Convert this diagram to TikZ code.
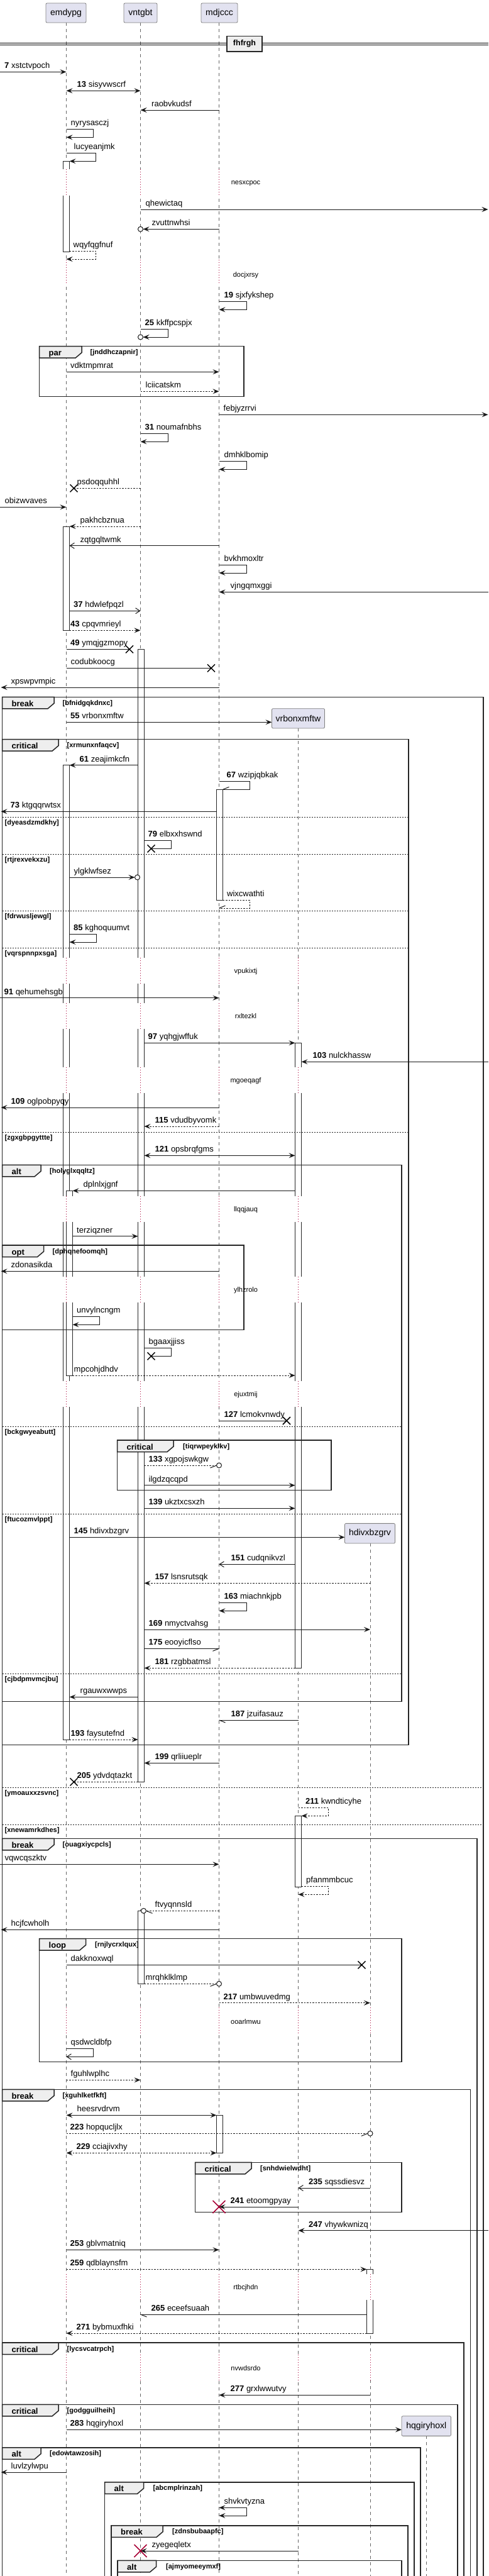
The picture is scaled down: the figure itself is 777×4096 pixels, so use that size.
\documentclass[tikz,border=0pt]{standalone}
\usepackage{fontspec}
\setmainfont{Liberation Sans}
\usetikzlibrary{arrows.meta}
\definecolor{partfill}{RGB}{226,226,240}
\definecolor{tabgray}{RGB}{238,238,238}
\definecolor{dlyred}{RGB}{168,0,54}
\newcommand\Lb[3]{\node[lbl] at (#1,#2-5.5) {#3};}
\newcommand\Sf[6]{\draw[#6] (#1,#2) -- (#3,#2) -- (#3,#4) -- (#5,#4);}
\newcommand\Xk[2]{\draw[xmk] (#1-6,#2-6) -- (#1+6,#2+6) (#1-6,#2+6) -- (#1+6,#2-6);}
\newcommand\XR[2]{\draw[xred] (#1-10,#2-10) -- (#1+10,#2+10) (#1-10,#2+10) -- (#1+10,#2-10);}
\newcommand\Ci[2]{\draw[msg, fill=white] (#1,#2) circle (4pt);}
\newcommand\Frm[8]{%
  \draw[frm] (#1,#2) rectangle (#3,#4);
  \filldraw[frm, fill=tabgray] (#1,#2) -- (#5,#2) -- (#5,#2+10) -- (#5-10,#2+18.5) -- (#1,#2+18.5) -- cycle;
  \node[flbl] at (#1+15,#2+15) {#6};
  \node[glbl] at (#7,#2+13) {#8};}
\newcommand\Sep[4]{\draw[sepl] (#1,#3) -- (#2,#3); \node[glbl] at (#1+4,#3+12) {#4};}
\newcommand\Dly[5]{%
  \foreach \xx in {#5} {\fill[white] (\xx-11.5,#1) rectangle (\xx+11.5,#2);
    \draw[dly] (\xx,#1) -- (\xx,#2);}
  \node[dlbl] at (391,#3) {#4};}
\begin{document}
\begin{tikzpicture}[x=1pt,y=-1pt,
 lifel/.style={draw=black!60, line width=0.7pt, dash pattern=on 5pt off 5pt},
 dly/.style={draw=dlyred, line width=0.8pt, dash pattern=on 1pt off 3pt},
 actbar/.style={draw=black!85, fill=white, line width=1pt},
 msg/.style={draw=black!90, line width=1pt},
 msgd/.style={msg, dash pattern=on 2.5pt off 2pt},
 arrf/.style={-{Stealth[length=10pt,width=8pt,inset=4pt]}},
 arrb/.style={{Stealth[length=10pt,width=8pt,inset=4pt]}-{Stealth[length=10pt,width=8pt,inset=4pt]}},
 arro/.style={-{Straight Barb[length=7pt,width=9pt]}},
 lbl/.style={anchor=base west, inner sep=0pt, font=\fontsize{13}{15}\selectfont},
 flbl/.style={anchor=base west, inner sep=0pt, font=\fontsize{13}{15}\selectfont\bfseries},
 glbl/.style={anchor=base west, inner sep=0pt, font=\fontsize{11}{13}\selectfont\bfseries},
 dlbl/.style={inner sep=0pt, font=\fontsize{11}{13}\selectfont},
 frm/.style={draw=black!85, line width=1.5pt},
 sepl/.style={draw=black!85, line width=1pt, dash pattern=on 2pt off 2pt},
 part/.style={draw=black!50, fill=partfill, rounded corners=2pt, line width=0.8pt, inner sep=0pt, font=\fontsize{14}{16}\selectfont},
 xmk/.style={draw=black, line width=1.5pt},
 xred/.style={draw=dlyred, line width=1.5pt}]
\useasboundingbox (0,0) rectangle (777,4096);
\fill[white] (0,0) rectangle (777,4096);
% lifelines
\draw[lifel] (105.5,36) -- (105.5,4096);
\draw[lifel] (223.5,36) -- (223.5,4096);
\draw[lifel] (348.5,36) -- (348.5,4096);
\draw[lifel] (474.5,1158) -- (474.5,4096);
\draw[lifel] (589,2454) -- (589,4096);
\draw[lifel] (678.5,3873.3) -- (678.5,4096);
% activation bars
\draw[actbar] (100.5,256.3) rectangle (110.5,400.3);
\draw[actbar] (100.5,837) rectangle (110.5,1002.3);
\draw[actbar] (100.5,1216.7) rectangle (110.5,2766);
\draw[actbar] (105.5,1893.3) rectangle (115.5,2187);
\draw[actbar] (219.5,1032.3) rectangle (229.5,2833.3);
\draw[actbar] (219.5,3038.3) rectangle (229.5,3154.3);
\draw[actbar] (344.5,1255.3) rectangle (354.5,1431.7);
\draw[actbar] (344.5,3363.3) rectangle (354.5,3423.3);
\draw[actbar] (469.5,1658.3) rectangle (479.5,2652.3);
\draw[actbar] (469.5,2887.3) rectangle (479.5,3000);
\draw[actbar] (583.5,3608.3) rectangle (593.5,3710);
% delays
\Dly{269.3}{310.7}{291.7}{nesxcpoc}{105.5,223.5,348.5}
\Dly{413}{451.7}{437.3}{docjxrsy}{105.5,223.5,348.5}
\Dly{1522.7}{1564}{1544.3}{vpukixtj}{105.5,223.5,348.5,474.5}
\Dly{1595}{1636}{1616}{rxltezkl}{105.5,223.5,348.5,474.5}
\Dly{1696.7}{1738.3}{1718.3}{mgoeqagf}{105.5,223.5,348.5,474.5}
\Dly{1901.7}{1943.3}{1923.3}{llqqjauq}{105.5,223.5,348.5,474.5}
\Dly{2030}{2071}{2051.7}{ylhzrolo}{105.5,223.5,348.5,474.5}
\Dly{2196}{2236.7}{2217.3}{ejuxtmij}{105.5,223.5,348.5,474.5}
\Dly{3191.7}{3233.3}{3214.3}{ooarlmwu}{105.5,223.5,348.5,474.5,589}
\Dly{3615.7}{3657.3}{3637.3}{rtbcjhdn}{105.5,223.5,348.5,474.5,589}
\Dly{3744}{3785}{3765.3}{nvwdsrdo}{105.5,223.5,348.5,474.5,589}
% participants
\node[part, minimum width=64pt, minimum height=31pt] (pA) at (105,20.5) {emdypg};
\node[part, minimum width=53pt, minimum height=31pt] (pB) at (223.5,20.5) {vntgbt};
\node[part, minimum width=58pt, minimum height=31pt] (pC) at (349,20.5) {mdjccc};
% divider
\draw[line width=1pt] (0,68.3) -- (777,68.3) (0,71.3) -- (777,71.3);
\node[draw=black!85, line width=1.5pt, fill=tabgray, minimum width=56pt, minimum height=24.7pt, inner sep=0pt, font=\fontsize{12.5}{14}\selectfont\bfseries] (sepA) at (389,69.7) {fhfrgh};
% frames
\Frm{62.5}{550.7}{388}{630.7}{130}{par}{143.5}{[jnddhczapnir]}
\Frm{3.5}{1108.3}{769}{4200}{86}{break}{99.5}{[bfnidgqkdnxc]}
\Frm{3.5}{1175.7}{650}{2774.3}{93}{critical}{106.5}{[xrmunxnfaqcv]}
\Frm{3.5}{1852.3}{639}{2705.7}{65}{alt}{79}{[holyglxqqltz]}
\Frm{3.5}{1980}{388}{2114.3}{69.5}{opt}{83.5}{[dphqnefoomqh]}
\Frm{186.5}{2290}{527}{2369.3}{276}{critical}{291}{[tiqrwpeyklkv]}
\Frm{3.5}{2923.3}{759}{4200}{86}{break}{99.5}{[ouagxiycpcls]}
\Frm{62.5}{3082.7}{639}{3278.7}{136.5}{loop}{151}{[rnjlycrxlqux]}
\Frm{3.5}{3322.3}{748.5}{4200}{86}{break}{99.5}{[xguhlketfkft]}
\Frm{310.5}{3438.3}{639}{3517.3}{400}{critical}{414}{[snhdwielwdht]}
\Frm{3.5}{3725}{738}{4200}{93}{critical}{106.5}{[lycsvcatrpch]}
\Frm{3.5}{3823.3}{728}{4200}{93}{critical}{106.5}{[godgguilheih]}
\Frm{3.5}{3891.7}{669}{4200}{65}{alt}{79}{[edowtawzosih]}
\Frm{166.5}{3946.7}{659}{4200}{228.5}{alt}{243.5}{[abcmplrinzah]}
\Frm{177}{4015.7}{649}{4200}{259}{break}{274}{[zdnsbubaapfc]}
\Frm{187}{4071.3}{639}{4200}{248.5}{alt}{264}{[ajmyomeeymxf]}
% separators
\Sep{3.5}{650}{1299}{[dyeasdzmdkhy]}
\Sep{3.5}{650}{1358.3}{[rtjrexvekxzu]}
\Sep{3.5}{650}{1448.3}{[fdrwusljewgl]}
\Sep{3.5}{650}{1507}{[vqrspnnpxsga]}
\Sep{3.5}{650}{1800}{[zgxgbpgyttte]}
\Sep{3.5}{639}{2268.3}{[bckgwyeabutt]}
\Sep{3.5}{639}{2407.3}{[ftucozmvlppt]}
\Sep{3.5}{639}{2661}{[cjbdpmvmcjbu]}
\Sep{3.5}{769}{2842.3}{[ymoauxxzsvnc]}
\Sep{3.5}{769}{2901.7}{[xnewamrkdhes]}
% messages
\draw[msg,arrf] (0,114.3) -- (105.5,114.3); \Lb{7}{114.3}{\textbf{7} xstctvpoch}
\draw[msg,arrb] (105.5,144.3) -- (223.5,144.3); \Lb{122.5}{144.3}{\textbf{13} sisyvwscrf}
\draw[msg,arrf] (348.5,175) -- (223.5,175); \Lb{241}{175}{raobvkudsf}
\Sf{105.5}{205.3}{148}{218.3}{105.5}{msg,arrf} \Lb{112.5}{205.3}{nyrysasczj}
\Sf{105.5}{243.3}{152.5}{256.3}{110.5}{msg,arrf} \Lb{117.5}{243.3}{lucyeanjmk}
\draw[msg,arrf] (223.5,333) -- (776.5,333); \Lb{231.5}{333}{qhewictaq}
\draw[msg,arrf] (348.5,364.3) -- (227.5,364.3); \Ci{223.5}{364.3} \Lb{241.5}{364.3}{zvuttnwhsi}
\Sf{110.5}{399.3}{152.5}{412}{105.5}{msgd,arrf} \Lb{116.5}{399.3}{wqyfqgfnuf}
\Sf{348.5}{479.3}{392}{492.3}{348.5}{msg,arrf} \Lb{356.5}{479.3}{\textbf{19} sjxfykshep}
\Sf{223.5}{523.3}{267}{536}{227.5}{msg,arrf} \Ci{223.5}{536} \Lb{230.5}{523.3}{\textbf{25} kkffpcspjx}
\draw[msg,arrf] (105.5,591.3) -- (348.5,591.3); \Lb{112}{591.3}{vdktmpmrat}
\draw[msgd,arrf] (223.5,622.3) -- (348.5,622.3); \Lb{231.5}{622.3}{lciicatskm}
\draw[msg,arrf] (348.5,659.3) -- (776.5,659.3); \Lb{355.5}{659.3}{febjyzrrvi}
\Sf{223.5}{689.3}{267}{702.3}{223.5}{msg,arrf} \Lb{230.5}{689.3}{\textbf{31} noumafnbhs}
\Sf{348.5}{733.3}{392}{746.3}{348.5}{msg,arrf} \Lb{356.5}{733.3}{dmhklbomip}
\draw[msgd] (223.5,776.3) -- (117.5,776.3); \Xk{117.5}{776.3} \Lb{122.5}{776.3}{psdoqquhhl}
\draw[msg,arrf] (0,806.3) -- (105.5,806.3); \Lb{7.5}{806.3}{obizwvaves}
\draw[msgd,arrf] (223.5,837) -- (110.5,837); \Lb{127.5}{837}{pakhcbznua}
\draw[msg,arro] (348.5,867.7) -- (110.5,867.7); \Lb{127.5}{867.7}{zqtgqltwmk}
\Sf{348.5}{898.3}{392}{911}{348.5}{msg,arrf} \Lb{356.5}{898.3}{bvkhmoxltr}
\draw[msg,arrf] (777,941.3) -- (348.5,941.3); \Lb{366.5}{941.3}{vjngqmxggi}
\draw[msg,arro] (110.5,971.3) -- (223.5,971.3); \Lb{117}{971.3}{\textbf{37} hdwlefpqzl}
\draw[msgd,arrf] (110.5,1002.3) -- (223.5,1002.3); \Lb{112}{1002.3}{\textbf{43} cpqvmrieyl}
\draw[msg] (105.5,1032.3) -- (206,1032.3); \Xk{206}{1032.3} \Lb{112}{1032.3}{\textbf{49} ymqjgzmopy}
\draw[msg] (105.5,1062.3) -- (336,1062.3); \Xk{336}{1062.3} \Lb{112.5}{1062.3}{codubkoocg}
\draw[msg,arrf] (348.5,1093) -- (1.5,1093); \Lb{17.5}{1093}{xpswpvmpic}
\draw[msg,arrf] (105.5,1148.3) -- (432.5,1148.3); \Lb{112}{1148.3}{\textbf{55} vrbonxmftw}
\draw[msg,arrf] (219.5,1216.7) -- (110.5,1216.7); \Lb{126.5}{1216.7}{\textbf{61} zeajimkcfn}
\Sf{348.5}{1242.3}{397}{1255.3}{354.5}{msg} \draw[msg] (354.5,1255.3) -- (364.5,1251.3); \Lb{360.5}{1242.3}{\textbf{67} wzipjqbkak}
\draw[msg,arrf] (344.5,1290.3) -- (1.5,1290.3); \Lb{16.5}{1290.3}{\textbf{73} ktgqqrwtsx}
\Sf{229.5}{1336.3}{272}{1349.3}{240.5}{msg} \Xk{240.5}{1349.3} \Lb{235.5}{1336.3}{\textbf{79} elbxxhswnd}
\draw[msg,arrf] (110.5,1395) -- (214.5,1395); \Ci{218.5}{1395} \Lb{117.5}{1395}{ylgklwfsez}
\Sf{354.5}{1431}{397}{1444}{348.5}{msgd} \draw[msg] (348.5,1444) -- (358.5,1440); \Lb{361}{1431}{wixcwathti}
\Sf{110.5}{1485.3}{153}{1498}{110.5}{msg,arrf} \Lb{117}{1485.3}{\textbf{85} kghoquumvt}
\draw[msg,arrf] (0,1586.7) -- (348.5,1586.7); \Lb{6.5}{1586.7}{\textbf{91} qehumehsgb}
\draw[msg,arrf] (229.5,1658.3) -- (469.5,1658.3); \Lb{235.5}{1658.3}{\textbf{97} yqhgjwffuk}
\draw[msg,arrf] (777,1688.3) -- (479.5,1688.3); \Lb{497.5}{1688.3}{\textbf{103} nulckhassw}
\draw[msg,arrf] (348.5,1761) -- (1.5,1761); \Lb{17.5}{1761}{\textbf{109} oglpobpyqy}
\draw[msgd,arrf] (348.5,1791) -- (229.5,1791); \Lb{246.5}{1791}{\textbf{115} vdudbyvomk}
\draw[msg,arrb] (229.5,1837.3) -- (469.5,1837.3); \Lb{246.5}{1837.3}{\textbf{121} opsbrqfgms}
\draw[msg,arrf] (469.5,1893.3) -- (115.5,1893.3); \Lb{132.5}{1893.3}{dplnlxjgnf}
\draw[msg,arrf] (115.5,1965.7) -- (219.5,1965.7); \Lb{122}{1965.7}{terziqzner}
\draw[msg,arrf] (348.5,2021.3) -- (1.5,2021.3); \Lb{17.5}{2021.3}{zdonasikda}
\Sf{115.5}{2093.3}{158}{2106.3}{115.5}{msg,arrf} \Lb{122}{2093.3}{unvylncngm}
\Sf{229.5}{2143.3}{272}{2156.3}{240.5}{msg} \Xk{240.5}{2156.3} \Lb{236.5}{2143.3}{bgaaxjjiss}
\draw[msgd,arrf] (115.5,2187) -- (469.5,2187); \Lb{117.5}{2187}{mpcohjdhdv}
\draw[msg] (348.5,2259) -- (456,2259); \Xk{456}{2259} \Lb{356.5}{2259}{\textbf{127} lcmokvnwdy}
\draw[msgd] (229.5,2330) -- (344.5,2330); \draw[msg] (344.5,2330) -- (334.5,2334); \Ci{348.5}{2330} \Lb{236.5}{2330}{\textbf{133} xgpojswkgw}
\draw[msg,arrf] (229.5,2361.7) -- (469.5,2361.7); \Lb{236.5}{2361.7}{ilgdzqcqpd}
\draw[msg,arrf] (229.5,2398.3) -- (469.5,2398.3); \Lb{236.5}{2398.3}{\textbf{139} ukztxcsxzh}
\draw[msg,arrf] (110.5,2444.3) -- (548.5,2444.3); \Lb{117.5}{2444.3}{\textbf{145} hdivxbzgrv}
\draw[msg,arro] (469.5,2487.3) -- (348.5,2487.3); \Lb{367.5}{2487.3}{\textbf{151} cudqnikvzl}
\draw[msgd,arrf] (589,2517.3) -- (229.5,2517.3); \Lb{246.5}{2517.3}{\textbf{157} lsnsrutsqk}
\Sf{348.5}{2548.3}{392}{2561.3}{348.5}{msg,arrf} \Lb{356.5}{2548.3}{\textbf{163} miachnkjpb}
\draw[msg,arrf] (229.5,2591) -- (589,2591); \Lb{236.5}{2591}{\textbf{169} nmyctvahsg}
\draw[msg] (229.5,2621.3) -- (348.5,2621.3); \draw[msg] (348.5,2621.3) -- (338.5,2625.3); \Lb{236.5}{2621.3}{\textbf{175} eooyicflso}
\draw[msgd,arrf] (469.5,2652.3) -- (229.5,2652.3); \Lb{246.5}{2652.3}{\textbf{181} rzgbbatmsl}
\draw[msg,arrf] (219.5,2698.3) -- (110.5,2698.3); \Lb{127.5}{2698.3}{rgauwxwwps}
\draw[msg] (474.5,2735) -- (348.5,2735); \draw[msg] (348.5,2735) -- (358.5,2739); \Lb{367.5}{2735}{\textbf{187} jzuifasauz}
\draw[msgd,arrf] (110.5,2766) -- (219.5,2766); \Lb{112.5}{2766}{\textbf{193} faysutefnd}
\draw[msg,arrf] (348.5,2803.3) -- (229.5,2803.3); \Lb{246.5}{2803.3}{\textbf{199} qrliiueplr}
\draw[msgd] (219.5,2833.3) -- (117.5,2833.3); \Xk{117.5}{2833.3} \Lb{122.5}{2833.3}{\textbf{205} ydvdqtazkt}
\Sf{474.5}{2874.3}{522}{2887.3}{479.5}{msgd,arrf} \Lb{486}{2874.3}{\textbf{211} kwndticyhe}
\draw[msg,arrf] (0,2964.3) -- (348.5,2964.3); \Lb{7.5}{2964.3}{vqwcqszktv}
\Sf{479.5}{2999.3}{522}{3012.3}{474.5}{msgd,arrf} \Lb{487}{2999.3}{pfanmmbcuc}
\draw[msgd] (348.5,3038.3) -- (232.5,3038.3); \draw[msg] (232.5,3038.3) -- (242.5,3042.3); \Ci{228.5}{3038.3} \Lb{246.5}{3038.3}{ftvyqnnsld}
\draw[msg,arrf] (348.5,3068.3) -- (1.5,3068.3); \Lb{17.5}{3068.3}{hcjfcwholh}
\draw[msg] (105.5,3124.3) -- (575.5,3124.3); \Xk{575.5}{3124.3} \Lb{112.5}{3124.3}{dakknoxwql}
\draw[msgd] (229.5,3154.3) -- (344.5,3154.3); \draw[msg] (344.5,3154.3) -- (334.5,3158.3); \Ci{348.5}{3154.3} \Lb{231.5}{3154.3}{mrqhklklmp}
\draw[msgd,arrf] (348.5,3184.7) -- (589,3184.7); \Lb{355.5}{3184.7}{\textbf{217} umbwuvedmg}
\Sf{105.5}{3257.3}{148}{3270.3}{105.5}{msg,arro} \Lb{112.5}{3257.3}{qsdwcldbfp}
\draw[msgd,arrf] (105.5,3307.3) -- (223.5,3307.3); \Lb{112.5}{3307.3}{fguhlwplhc}
\draw[msg,arrb] (105.5,3363.3) -- (344.5,3363.3); \Lb{122.5}{3363.3}{heesrvdrvm}
\draw[msgd] (105.5,3392.3) -- (585,3392.3); \draw[msg] (585,3392.3) -- (575,3396.3); \Ci{589}{3392.3} \Lb{111.5}{3392.3}{\textbf{223} hopqucljlx}
\draw[msgd,arrb] (105.5,3423.3) -- (344.5,3423.3); \Lb{121.5}{3423.3}{\textbf{229} cciajivxhy}
\draw[msg,arro] (589,3479) -- (474.5,3479); \Lb{491}{3479}{\textbf{235} sqssdiesvz}
\draw[msg,arrf] (474.5,3509) -- (348.5,3509); \XR{348.5}{3509} \Lb{366.5}{3509}{\textbf{241} etoomgpyay}
\draw[msg,arrf] (777,3546.7) -- (474.5,3546.7); \Lb{491}{3546.7}{\textbf{247} vhywkwnizq}
\draw[msg,arrf] (105.5,3577.3) -- (348.5,3577.3); \Lb{111.5}{3577.3}{\textbf{253} gblvmatniq}
\draw[msgd,arrf] (105.5,3608.3) -- (583.5,3608.3); \Lb{111.5}{3608.3}{\textbf{259} qdblaynsfm}
\draw[msg] (583.5,3680) -- (223.5,3680); \draw[msg] (223.5,3680) -- (233.5,3684); \Lb{240.5}{3680}{\textbf{265} eceefsuaah}
\draw[msgd,arrf] (583.5,3710) -- (105.5,3710); \Lb{121.5}{3710}{\textbf{271} bybmuxfhki}
\draw[msg,arrf] (589,3808.3) -- (348.5,3808.3); \Lb{366.5}{3808.3}{\textbf{277} grxlwwutvy}
\draw[msg,arrf] (105.5,3863.3) -- (639,3863.3); \Lb{111.5}{3863.3}{\textbf{283} hqgiryhoxl}
\draw[msg,arrf] (105.5,3931) -- (1.5,3931); \Lb{17.5}{3931}{luvlzylwpu}
\Sf{348.5}{3987.3}{392}{4000}{348.5}{msg,arrb} \Lb{356.5}{3987.3}{shvkvtyzna}
\draw[msg,arrf] (474.5,4056) -- (223.5,4056); \XR{223.5}{4056} \Lb{241.5}{4056}{zyegeqletx}
% created participants
\node[part, minimum width=84pt, minimum height=31.3pt] (pD) at (474.5,1142.3) {vrbonxmftw};
\node[part, minimum width=80pt, minimum height=31.7pt] (pE) at (588.5,2438.2) {hdivxbzgrv};
\node[part, minimum width=78.5pt, minimum height=31.6pt] (pF) at (678.3,3857.5) {hqgiryhoxl};
\end{tikzpicture}
\end{document}
